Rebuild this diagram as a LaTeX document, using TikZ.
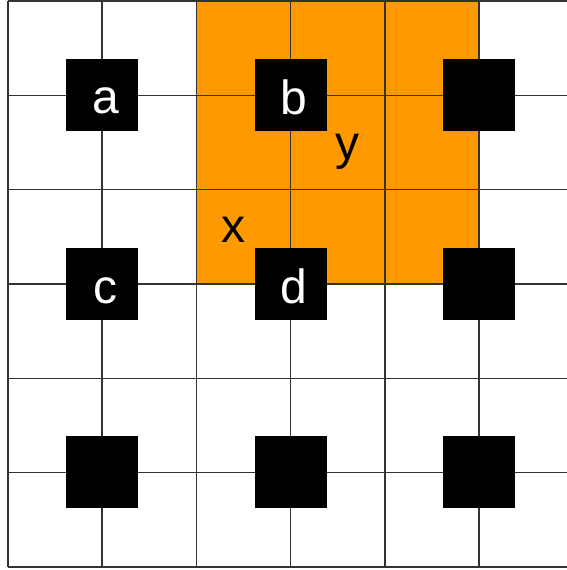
\documentclass[tikz,border=0pt]{standalone}
\usepackage{fontspec}
\setmainfont{Liberation Sans}
\begin{document}
\begin{tikzpicture}[x=1pt,y=-1pt,
  gridline/.style={line width=1.5pt,draw=black!80},
  blk/.style={fill=black,draw=none,minimum size=72pt,inner sep=0pt},
  lbl/.style={font=\fontsize{48}{48}\selectfont,inner sep=0pt,anchor=base},
  wlbl/.style={lbl,text=white}]
\useasboundingbox (0,0) rectangle (567,570);
\fill[white] (0,0) rectangle (567,570);
\fill[fill={rgb,255:red,255;green,153;blue,0}] (196.4,1) rectangle (479,284);
\foreach \i in {0,...,5} {
  \draw[gridline] ({8+94.2*\i},1) -- ({8+94.2*\i},567);
}
\foreach \j in {0,...,6} {
  \draw[gridline] (8,{1+94.33*\j}) -- (567,{1+94.33*\j});
}
\node[blk] (sa) at (102.2,94.8) {};
\node[blk] (sb) at (290.6,94.8) {};
\node[blk] (r1) at (479,94.8) {};
\node[blk] (sc) at (102.2,284) {};
\node[blk] (sd) at (290.6,284) {};
\node[blk] (r2) at (479,284) {};
\node[blk] (r3) at (102.2,472.3) {};
\node[blk] (r4) at (290.6,472.3) {};
\node[blk] (r5) at (479,472.3) {};
\node[wlbl] (a) at (105.5,113.5) {a};
\node[wlbl] (b) at (294,114.5) {b};
\node[wlbl] (c) at (105.5,303) {c};
\node[wlbl] (d) at (294,303) {d};
\node[lbl] (x) at (233,242) {x};
\node[lbl] (y) at (347,159) {y};
\end{tikzpicture}
\end{document}
